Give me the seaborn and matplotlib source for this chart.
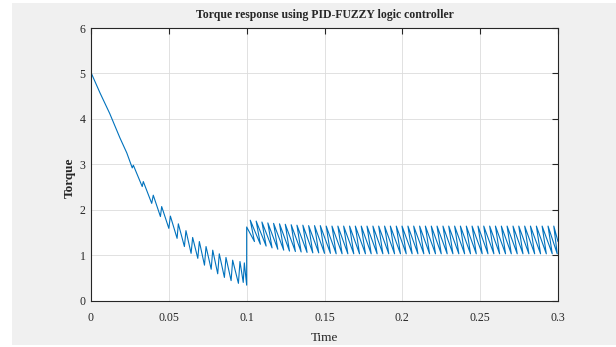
import numpy as np
import pandas as pd
import matplotlib.pyplot as plt
import seaborn as sns
from matplotlib.patches import Rectangle

# start-up: vertical rise at t=0, then decaying torque with ripple
decay_t = [0.0, 0.0, 0.0058, 0.0120, 0.0186, 0.0230, 0.0265, 0.0272,
           0.0329, 0.0336, 0.0390, 0.0400, 0.0446, 0.0454, 0.0500, 0.0510,
           0.0553, 0.0561, 0.0600, 0.0610, 0.0643, 0.0653, 0.0686, 0.0696,
           0.0729, 0.0739, 0.0772, 0.0782, 0.0814, 0.0824, 0.0857, 0.0867,
           0.0900, 0.0910, 0.0947, 0.0957, 0.0978, 0.0985, 0.1000]
decay_y = [0.0, 5.02, 4.57, 4.12, 3.58, 3.25, 2.92, 2.98,
           2.51, 2.62, 2.14, 2.32, 1.85, 2.07, 1.59, 1.86,
           1.37, 1.69, 1.19, 1.54, 1.04, 1.39, 0.93, 1.30,
           0.78, 1.19, 0.69, 1.11, 0.59, 1.03, 0.51, 0.95,
           0.44, 0.89, 0.38, 0.86, 0.40, 0.83, 0.34]

# after load step at t=0.1: sawtooth ripple
peak_t = [0.1000, 0.1023, 0.1061, 0.1098, 0.1136, 0.1173, 0.1211, 0.1248,
          0.1286, 0.1323, 0.1361, 0.1398, 0.1436, 0.1473, 0.1511, 0.1548,
          0.1586, 0.1623, 0.1661, 0.1698, 0.1736, 0.1773, 0.1811, 0.1848,
          0.1886, 0.1923, 0.1961, 0.1998, 0.2036, 0.2073, 0.2111, 0.2148,
          0.2186, 0.2223, 0.2261, 0.2298, 0.2336, 0.2373, 0.2411, 0.2448,
          0.2486, 0.2523, 0.2561, 0.2598, 0.2636, 0.2673, 0.2711, 0.2748,
          0.2786, 0.2823, 0.2861, 0.2898, 0.2936, 0.2973]
peak_y = [1.62, 1.77, 1.75, 1.73, 1.71, 1.70, 1.69, 1.68,
          1.67, 1.66, 1.66, 1.65, 1.65, 1.65, 1.64, 1.64,
          1.64, 1.64, 1.64, 1.64, 1.64, 1.64, 1.64, 1.64,
          1.64, 1.64, 1.64, 1.64, 1.64, 1.64, 1.64, 1.64,
          1.64, 1.64, 1.64, 1.64, 1.64, 1.64, 1.64, 1.64,
          1.64, 1.64, 1.64, 1.64, 1.64, 1.64, 1.64, 1.64,
          1.64, 1.64, 1.64, 1.64, 1.64, 1.64]
trough_t = [None, 0.1050, 0.1088, 0.1125, 0.1163, 0.1200, 0.1238, 0.1275,
            0.1313, 0.1350, 0.1388, 0.1425, 0.1463, 0.1500, 0.1538, 0.1575,
            0.1613, 0.1650, 0.1688, 0.1725, 0.1763, 0.1800, 0.1838, 0.1875,
            0.1913, 0.1950, 0.1988, 0.2025, 0.2063, 0.2100, 0.2138, 0.2175,
            0.2213, 0.2250, 0.2288, 0.2325, 0.2363, 0.2400, 0.2438, 0.2475,
            0.2513, 0.2550, 0.2588, 0.2625, 0.2663, 0.2700, 0.2738, 0.2775,
            0.2813, 0.2850, 0.2888, 0.2925, 0.2963, 0.2995]
trough_y = [None, 1.30, 1.24, 1.20, 1.16, 1.13, 1.11, 1.09,
            1.08, 1.07, 1.06, 1.05, 1.05, 1.04, 1.04, 1.03,
            1.03, 1.03, 1.03, 1.03, 1.03, 1.03, 1.03, 1.03,
            1.03, 1.03, 1.03, 1.03, 1.03, 1.03, 1.03, 1.03,
            1.03, 1.03, 1.03, 1.03, 1.03, 1.03, 1.03, 1.03,
            1.03, 1.03, 1.03, 1.03, 1.03, 1.03, 1.03, 1.03,
            1.03, 1.03, 1.03, 1.03, 1.03, 1.03]
end_t, end_y = 0.3, 1.30

x_ticks = [0, 0.05, 0.1, 0.15, 0.2, 0.25, 0.3]
x_labels = ['0', '0.05', '0.1', '0.15', '0.2', '0.25', '0.3']
y_ticks = [0, 1, 2, 3, 4, 5, 6]

# build vertex list in drawing order
t_all, y_all = list(decay_t), list(decay_y)
for pt, py, tt, ty in zip(peak_t, peak_y, trough_t, trough_y):
    if tt is not None:
        t_all.append(tt); y_all.append(ty)
    t_all.append(pt); y_all.append(py)
t_all.append(end_t); y_all.append(end_y)
df = pd.DataFrame({'t': t_all, 'torque': y_all})

sns.set_style('white')
plt.rcParams['font.family'] = ['Liberation Serif', 'DejaVu Serif']

fig = plt.figure(figsize=(6.16, 3.47), dpi=100, facecolor='white')
fig.patches.append(Rectangle((12/616, 2/347), 1 - 12/616, 1 - 5/347,
                             transform=fig.transFigure, facecolor='#f0f0f0',
                             edgecolor='none', zorder=-10))
ax = fig.add_axes([91/616, 1 - 300.6/347, 467/616, 272.6/347])
ax.set_facecolor('white')

sns.lineplot(data=df, x='t', y='torque', sort=False, estimator=None,
             color='#0072BD', linewidth=0.8, ax=ax)

ax.set_xlim(0, 0.3)
ax.set_ylim(0, 6)
ax.set_xticks(x_ticks)
ax.set_xticklabels(x_labels)
ax.set_yticks(y_ticks)
ax.grid(True, color='#dcdcdc', linewidth=0.6)
ax.set_axisbelow(True)
for s in ax.spines.values():
    s.set_visible(True)
    s.set_color('#262626')
    s.set_linewidth(0.8)
ax.tick_params(direction='in', length=4, width=0.8, top=True, right=True,
               labelsize=8.5, colors='#262626', pad=8)
ax.tick_params(axis='y', pad=4)

ax.set_title('Torque response using PID-FUZZY logic controller',
             fontsize=8.5, fontweight='bold', pad=7)
ax.set_xlabel('Time', fontsize=9.5, labelpad=6)
ax.set_ylabel('Torque', fontsize=9.5, fontweight='bold')
ax.yaxis.set_label_coords(-0.032, 0.45)

fig.savefig('out.png', dpi=100, facecolor=fig.get_facecolor())
